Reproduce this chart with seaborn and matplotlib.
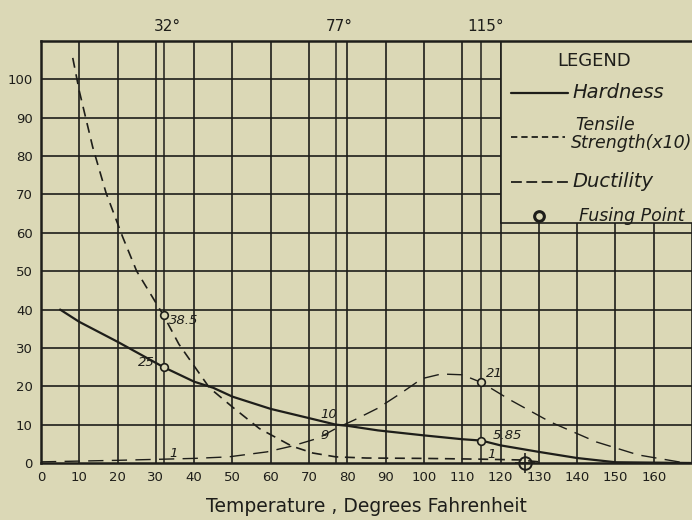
import matplotlib
matplotlib.use("Agg")
import matplotlib.pyplot as plt
from matplotlib.patches import Rectangle
import seaborn as sns
import pandas as pd

# colours of the old printed page
BG = "#dbd8b6"
INK = "#1e1e1a"

# Hardness curve (solid)
temp_hard = [5, 10, 20, 32, 40, 45, 50, 60, 70, 77, 80, 88, 100, 110, 115, 120, 130, 140, 150, 170]
hardness = [40, 36.8, 31.6, 25, 21.2, 19.6, 17.3, 14.1, 11.7, 10, 9.7, 8.5, 7.2, 6.2, 5.85, 4.6, 2.9, 1.3, 0.2, 0]

# Tensile strength (x10), short dashes
temp_tens = [8.3, 10, 13.5, 17, 21.3, 25, 32, 36, 39.5, 44, 50, 57, 65.5, 71, 77, 85, 100, 115, 125, 130]
tensile = [105.6, 97, 82.4, 70.4, 59, 50, 38.5, 31, 26, 19.6, 14.6, 9, 4.4, 2.6, 1.6, 1.3, 1.2, 1.0, 0.8, 0.3]

# Ductility, long dashes
temp_duct = [0, 10, 20, 32, 40, 49, 59, 65.5, 72.5, 77, 82, 88, 94, 99.5, 104.5, 110, 115,
             122.6, 133, 145, 156, 166.5, 170]
ductility = [0.3, 0.5, 0.7, 1, 1.2, 1.6, 2.9, 4.4, 6.5, 9, 11.3, 14.3, 18.2, 22, 23.2, 23, 21,
             16.4, 10.7, 5.5, 2.1, 0.3, 0]

# marked points and their written values
mark_x = [32, 32, 115, 115]
mark_y = [38.5, 25, 21, 5.85]
note_text = ["38.5", "25", "10", "9", "1", "21", "5.85", "1"]
note_x = [33.5, 25.3, 73, 73, 33.5, 116.3, 118, 116.5]
note_y = [36.2, 25.3, 11.8, 6.3, 1.6, 22.4, 6.2, 1.4]

fusing_x = [126.5]
fusing_y = [0]

special_temps = [32, 77, 115]
special_labels = ["32°", "77°", "115°"]
x_ticks = list(range(0, 161, 10))
y_ticks = list(range(0, 101, 10))

# legend text lines
legend_names = ["Hardness", "Tensile", "Strength(x10)", "Ductility", "Fusing Point"]
legend_x = [138.8, 139.4, 138.5, 138.8, 140.5]
legend_text_y = [96.5, 88.0, 83.4, 73.3, 64.3]
legend_size = [14, 12.5, 12.5, 14, 12.5]

sns.set_style("white", {"axes.facecolor": BG, "figure.facecolor": BG})
plt.rcParams["font.family"] = ["DejaVu Sans"]

fig = plt.figure(figsize=(6.92, 5.2), dpi=100)
ax = fig.add_axes([0.0592, 0.1096, 0.9408, 0.8115])
ax.set_xlim(0, 170)
ax.set_ylim(0, 110)

# grid
for gx in range(10, 171, 10):
    ax.axvline(gx, color=INK, lw=1.2, zorder=1)
for gy in range(10, 111, 10):
    ax.axhline(gy, color=INK, lw=1.2, zorder=1)
for sx in special_temps:
    ax.axvline(sx, color=INK, lw=1.1, zorder=1)

# mask the grid where the legend sits
ax.add_patch(Rectangle((120, 62.6), 50, 47.4, facecolor=BG, edgecolor="none", zorder=2))
ax.plot([120, 170], [62.6, 62.6], color=INK, lw=1.2, zorder=3)
ax.plot([120, 120], [62.6, 110], color=INK, lw=1.2, zorder=3)

hard_df = pd.DataFrame({"temp": temp_hard, "val": hardness})
tens_df = pd.DataFrame({"temp": temp_tens, "val": tensile})
duct_df = pd.DataFrame({"temp": temp_duct, "val": ductility})

sns.lineplot(data=hard_df, x="temp", y="val", ax=ax, color=INK, lw=1.6, sort=False, zorder=4)
sns.lineplot(data=tens_df, x="temp", y="val", ax=ax, color=INK, lw=1.2, sort=False,
             linestyle=(0, (6, 4)), zorder=4)
sns.lineplot(data=duct_df, x="temp", y="val", ax=ax, color=INK, lw=1.0, sort=False,
             linestyle=(0, (11, 6)), zorder=4)

ax.plot(mark_x, mark_y, "o", ms=5.5, mfc=BG, mec=INK, mew=1.2, zorder=5)
for t, nx, ny in zip(note_text, note_x, note_y):
    ax.text(nx, ny, t, fontsize=9.5, style="italic", color=INK, zorder=6)

ax.plot(fusing_x, fusing_y, "o", ms=9, mfc="none", mec=INK, mew=1.4, zorder=6, clip_on=False)
ax.plot(fusing_x, fusing_y, "+", ms=14, mec=INK, mew=1.2, zorder=6, clip_on=False)

# legend, drawn by hand like the original
ax.text(144.4, 104.8, "LEGEND", fontsize=13, color=INK, ha="center", va="center", zorder=6)
ax.plot([122.8, 137.6], [96.5, 96.5], color=INK, lw=1.6, zorder=6)
ax.plot([122.8, 136.8], [85.0, 85.0], color=INK, lw=1.3, linestyle=(0, (3.5, 2.2)), zorder=6)
ax.plot([122.8, 137.6], [73.3, 73.3], color=INK, lw=1.3, linestyle=(0, (6, 2.5)), zorder=6)
ax.plot([130.1], [64.3], "o", ms=7, mfc="none", mec=INK, mew=2.2, zorder=6)
for name, lx, ly, fs in zip(legend_names, legend_x, legend_text_y, legend_size):
    ax.text(lx, ly, name, fontsize=fs, style="italic", color=INK,
            ha="left", va="center", zorder=6)

# labels above the chart
for sx, lab in zip(special_temps, special_labels):
    ax.text(sx + 1, 111.8, lab, fontsize=11, ha="center", va="bottom", color=INK)

ax.set_xticks(x_ticks)
ax.set_yticks(y_ticks)
ax.set_xticklabels([str(v) for v in x_ticks], fontsize=9.5, color=INK)
ax.set_yticklabels([str(v) for v in y_ticks], fontsize=9.5, color=INK)
ax.tick_params(length=0, pad=6)
ax.set_xlabel("Temperature , Degrees Fahrenheit", fontsize=13.5, color=INK, labelpad=9)
ax.set_ylabel("")

for s in ax.spines.values():
    s.set_color(INK)
    s.set_linewidth(1.8)
ax.spines["right"].set_visible(False)

fig.savefig("out.png", dpi=100, facecolor=BG)
